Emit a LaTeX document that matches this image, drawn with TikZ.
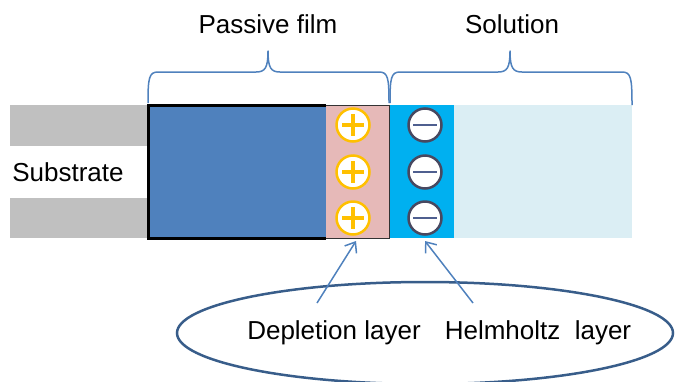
\documentclass[tikz,border=0pt]{standalone}
\usepackage{fontspec}
\setmainfont{Liberation Sans}
\usetikzlibrary{arrows.meta}
\definecolor{filmblue}{RGB}{79,129,189}
\definecolor{depink}{RGB}{230,185,184}
\definecolor{helmcyan}{RGB}{0,176,240}
\definecolor{solblue}{RGB}{219,238,244}
\definecolor{subgray}{RGB}{192,192,192}
\definecolor{bracecol}{RGB}{79,129,189}
\definecolor{ellcol}{RGB}{56,93,138}
\definecolor{plusorange}{RGB}{255,192,0}
\definecolor{minusring}{RGB}{72,72,96}
\definecolor{minusbar}{RGB}{79,95,143}
\tikzset{
  brace/.style={draw=bracecol, line width=1.5pt, line join=round},
  lbl/.style={font=\fontsize{26}{31}\selectfont, inner sep=0pt},
  pluscirc/.style={draw=plusorange, fill=white, line width=2.5pt},
  plusbar/.style={draw=plusorange, line width=3.2pt},
  minuscirc/.style={draw=minusring, fill=white, line width=2.5pt},
  minusbar/.style={draw=minusbar, line width=2.8pt},
  pointer/.style={draw=bracecol, line width=1.5pt, -{Straight Barb[length=9pt,width=14pt,line width=1.5pt]}},
}
\begin{document}
\begin{tikzpicture}[x=1pt,y=-1pt]
\useasboundingbox (0,0) rectangle (676,381);
% substrate
\fill[subgray] (10,105) rectangle (148,146);
\fill[subgray] (10,198) rectangle (148,238);
\node[lbl] (sub) at (68,172) {Substrate};
% solution regions
\fill[solblue] (454,105) rectangle (632,238);
\fill[helmcyan] (389,105) rectangle (454,238);
% passive film: body and depletion layer
\fill[filmblue] (148,105) rectangle (326,238);
\fill[depink] (326,105) rectangle (389,238);
\draw[draw=black!80, line width=1pt] (326,105) -- (389,105) -- (389,238) -- (326,238);
\draw[draw=black, line width=3pt, line join=miter] (326,105) -- (148,105) -- (148,238) -- (326,238);
% charges
\foreach \y in {125,172,218}{
  \draw[pluscirc] (353,\y) circle (16.5pt);
  \draw[plusbar] (342,\y) -- (364,\y) (353,\y-11) -- (353,\y+11);
  \draw[minuscirc] (425,\y) circle (16.5pt);
  \draw[minusbar] (413,\y) -- (437,\y);
}
% braces
\draw[brace] (148,103) .. controls (148,78) and (149,72) .. (158,72) -- (256,72)
  .. controls (265,72) and (268,68) .. (268,51)
  .. controls (268,68) and (271,72) .. (280,72) -- (379,72)
  .. controls (388,72) and (389,78) .. (389,103);
\draw[brace] (390,103) .. controls (390,78) and (391,72) .. (400,72) -- (498,72)
  .. controls (507,72) and (510,68) .. (510,51)
  .. controls (510,68) and (513,72) .. (522,72) -- (622,72)
  .. controls (631,72) and (632,78) .. (632,105);
\node[lbl] (pf) at (268,24) {Passive film};
\node[lbl] (sol) at (512,24) {Solution};
% ellipse and labels
\draw[draw=ellcol, line width=2.5pt] (425,333) ellipse [x radius=248pt, y radius=51pt];
\node[lbl] (dep) at (334,333) {Depletion layer};
\node[lbl] (helm) at (538,333) {Helmholtz\ \ layer};
\coordinate (depS) at (317,303);
\coordinate (depT) at (356,241);
\coordinate (helmS) at (473,303);
\coordinate (helmT) at (425,241);
\draw[pointer] (depS) -- (depT);
\draw[pointer] (helmS) -- (helmT);
\end{tikzpicture}
\end{document}
